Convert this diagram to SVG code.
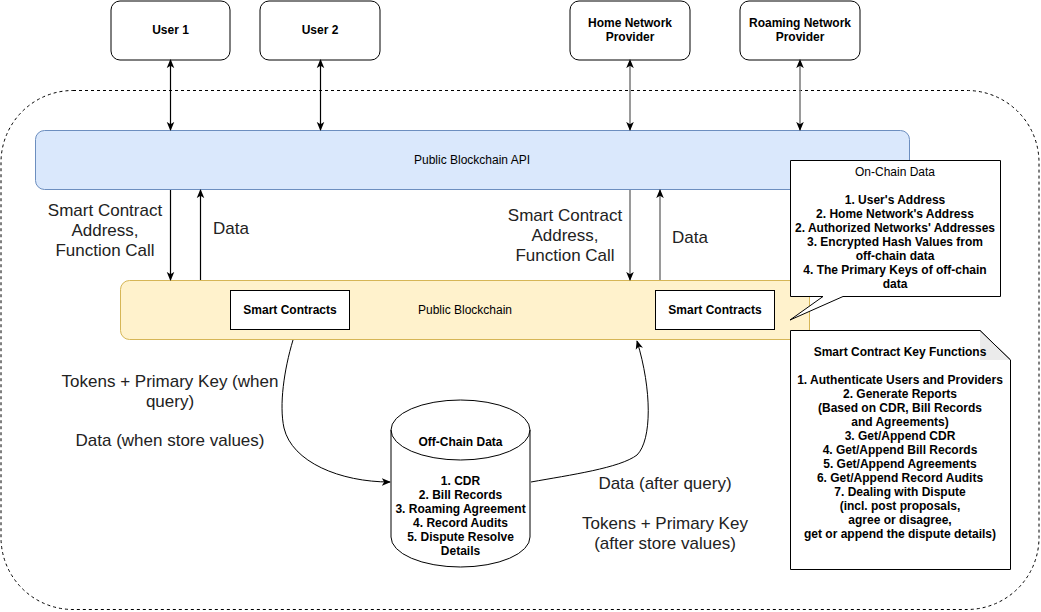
<svg xmlns="http://www.w3.org/2000/svg" width="1041" height="612" viewBox="0 0 1041 612">
<style>
text{font-family:"Liberation Sans",Arial,sans-serif;dominant-baseline:central;text-anchor:middle;}
.node{fill:#fff;stroke:#000;stroke-width:1;}
.nt{font-size:12px;font-weight:bold;fill:#000;}
.lt{font-size:12px;fill:#000;}
.big{font-size:17px;fill:#222;}
.blk{stroke:#000;stroke-width:1.2;fill:none;}
.gry{stroke:#808080;stroke-width:1.6;fill:none;}
.crv{stroke:#000;stroke-width:1;fill:none;}
</style>
<defs>
<marker id="ah" viewBox="0 0 10 10" refX="9" refY="5" markerWidth="9" markerHeight="9" markerUnits="userSpaceOnUse" orient="auto-start-reverse">
<path d="M0,0.8 L10,5 L0,9.2 L2.5,5 Z" fill="#000"/>
</marker>
</defs>

<g id="container">
<rect x="1" y="90.5" width="1038" height="519" rx="72" ry="72" fill="none" stroke="#000" stroke-width="1" stroke-dasharray="3 3"/>
</g>

<g id="user1"><rect class="node" x="111" y="1" width="119" height="59" rx="9"/><text class="nt" x="170.5" y="30">User 1</text></g>
<g id="user2"><rect class="node" x="260" y="1" width="120" height="59" rx="9"/><text class="nt" x="320" y="30">User 2</text></g>
<g id="home"><rect class="node" x="570" y="1" width="120" height="59" rx="9"/><text class="nt" x="630" y="23">Home Network</text><text class="nt" x="630" y="37">Provider</text></g>
<g id="roaming"><rect class="node" x="740" y="1" width="120" height="59" rx="9"/><text class="nt" x="800" y="23">Roaming Network</text><text class="nt" x="800" y="37">Provider</text></g>

<g id="api"><rect x="35.5" y="130.5" width="874" height="59" rx="9" fill="#dae8fc" stroke="#6c8ebf"/><text class="lt" x="472" y="160">Public Blockchain API</text></g>

<g id="blockchain"><rect x="120.5" y="280.5" width="689" height="59" rx="9" fill="#fff2cc" stroke="#d6b656"/><text class="lt" x="465" y="310">Public Blockchain</text></g>
<g id="sc1"><rect class="node" x="230.5" y="290.5" width="119" height="39"/><text class="nt" x="290" y="310">Smart Contracts</text></g>
<g id="sc2"><rect class="node" x="655.5" y="290.5" width="119" height="39"/><text class="nt" x="715" y="310">Smart Contracts</text></g>

<g id="offchain">
<path d="M391,430 A69.5,30 0 0 1 530,430 V537 A69.5,30 0 0 1 391,537 Z" fill="#fff" stroke="#000"/>
<path d="M391,430 A69.5,30 0 0 0 530,430" fill="none" stroke="#000"/>
<text class="nt" x="460.5" y="442">Off-Chain Data</text>
<text class="nt" x="460.5" y="481">1. CDR</text>
<text class="nt" x="460.5" y="495">2. Bill Records</text>
<text class="nt" x="460.5" y="509">3. Roaming Agreement</text>
<text class="nt" x="460.5" y="523">4. Record Audits</text>
<text class="nt" x="460.5" y="537">5. Dispute Resolve</text>
<text class="nt" x="460.5" y="551">Details</text>
</g>

<g id="connectors">
<line class="blk" x1="170.5" y1="60" x2="170.5" y2="130" marker-start="url(#ah)" marker-end="url(#ah)"/>
<line class="blk" x1="320.5" y1="60" x2="320.5" y2="130" marker-start="url(#ah)" marker-end="url(#ah)"/>
<line class="gry" x1="630" y1="60" x2="630" y2="130" marker-start="url(#ah)" marker-end="url(#ah)"/>
<line class="gry" x1="800" y1="60" x2="800" y2="130" marker-start="url(#ah)" marker-end="url(#ah)"/>
<line class="blk" x1="170.5" y1="190" x2="170.5" y2="280" marker-end="url(#ah)"/>
<line class="blk" x1="200.5" y1="280" x2="200.5" y2="190" marker-end="url(#ah)"/>
<line class="gry" x1="630" y1="190" x2="630" y2="280" marker-end="url(#ah)"/>
<line class="gry" x1="660" y1="280" x2="660" y2="190" marker-end="url(#ah)"/>
<path class="crv" d="M293,340 C284,370 279,405 284,428 C292,462 340,482 390,482" marker-end="url(#ah)"/>
<path class="crv" d="M531,482 C570,475 620,468 637,455 C652,440 652,390 637,341" marker-end="url(#ah)"/>
</g>

<g id="labels">
<text class="big" x="105" y="210">Smart Contract</text>
<text class="big" x="105" y="230">Address,</text>
<text class="big" x="105" y="250">Function Call</text>
<text class="big" x="231" y="228">Data</text>
<text class="big" x="565" y="215">Smart Contract</text>
<text class="big" x="565" y="235">Address,</text>
<text class="big" x="565" y="255">Function Call</text>
<text class="big" x="690" y="237">Data</text>
<text class="big" x="170" y="381">Tokens + Primary Key (when</text>
<text class="big" x="170" y="401">query)</text>
<text class="big" x="170" y="440">Data (when store values)</text>
<text class="big" x="665" y="483">Data (after query)</text>
<text class="big" x="665" y="523">Tokens + Primary Key</text>
<text class="big" x="665" y="543">(after store values)</text>
</g>

<g id="onchain">
<path d="M790.5,160.5 H1000.5 V296.5 H843 L790,320 L823,296.5 H790.5 Z" fill="#fff" stroke="#000"/>
<text class="lt" x="895" y="172">On-Chain Data</text>
<text class="nt" x="895" y="200">1. User's Address</text>
<text class="nt" x="895" y="214">2. Home Network's Address</text>
<text class="nt" x="895" y="228">2. Authorized Networks' Addresses</text>
<text class="nt" x="895" y="242">3. Encrypted Hash Values from</text>
<text class="nt" x="895" y="256">off-chain data</text>
<text class="nt" x="895" y="270">4. The Primary Keys of off-chain</text>
<text class="nt" x="895" y="284">data</text>
</g>

<g id="keyfunctions">
<path d="M790.5,330.5 H980 L1010.5,360 V569.5 H790.5 Z" fill="#fff" stroke="#000"/>
<path d="M980,330.5 V360 H1010.5 Z" fill="#ebebeb" stroke="none"/>
<path d="M980,330.5 L1010.5,360" fill="none" stroke="#000"/>
<text class="nt" x="900" y="352">Smart Contract Key Functions</text>
<text class="nt" x="900" y="380">1. Authenticate Users and Providers</text>
<text class="nt" x="900" y="394">2. Generate Reports</text>
<text class="nt" x="900" y="408">(Based on CDR, Bill Records</text>
<text class="nt" x="900" y="422">and Agreements)</text>
<text class="nt" x="900" y="436">3. Get/Append CDR</text>
<text class="nt" x="900" y="450">4. Get/Append Bill Records</text>
<text class="nt" x="900" y="464">5. Get/Append Agreements</text>
<text class="nt" x="900" y="478">6. Get/Append Record Audits</text>
<text class="nt" x="900" y="492">7. Dealing with Dispute</text>
<text class="nt" x="900" y="506">(incl. post proposals,</text>
<text class="nt" x="900" y="520">agree or disagree,</text>
<text class="nt" x="900" y="534">get or append the dispute details)</text>
</g>
</svg>
